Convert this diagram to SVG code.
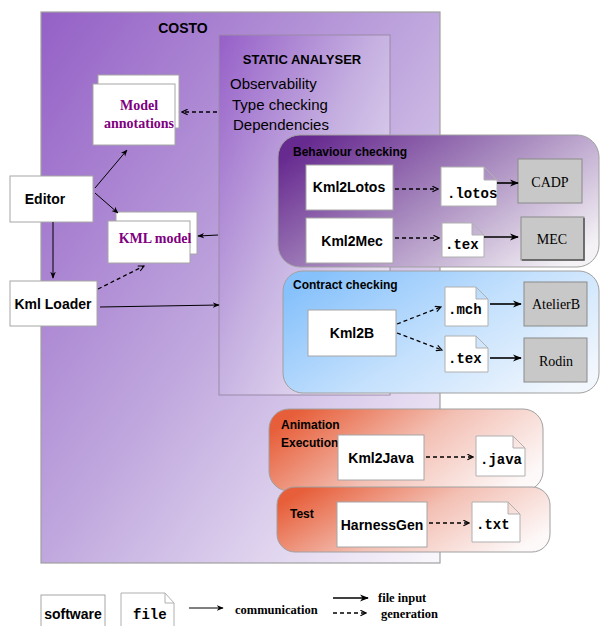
<svg xmlns="http://www.w3.org/2000/svg" width="601" height="626" viewBox="0 0 601 626">
<defs>
<linearGradient id="gCosto" x1="0" y1="0" x2="1" y2="1">
<stop offset="0" stop-color="#9460c6"/><stop offset="0.5" stop-color="#c0a8de"/><stop offset="1" stop-color="#faf8fc"/>
</linearGradient>
<linearGradient id="gStatic" x1="0" y1="0" x2="1" y2="1">
<stop offset="0" stop-color="#965fc8"/><stop offset="0.45" stop-color="#c4aee0"/><stop offset="1" stop-color="#f7f4fa"/>
</linearGradient>
<linearGradient id="gBehav" x1="0" y1="0.2" x2="1" y2="0.8">
<stop offset="0" stop-color="#672a90"/><stop offset="0.45" stop-color="#a383bb"/><stop offset="1" stop-color="#f4f2f5"/>
</linearGradient>
<linearGradient id="gContract" x1="0" y1="0.2" x2="1" y2="0.8">
<stop offset="0" stop-color="#86c1fb"/><stop offset="0.5" stop-color="#c3e0fd"/><stop offset="1" stop-color="#f2f7fd"/>
</linearGradient>
<linearGradient id="gRed" x1="0" y1="0.3" x2="1" y2="0.7">
<stop offset="0" stop-color="#e75f3a"/><stop offset="0.5" stop-color="#f3c0b4"/><stop offset="1" stop-color="#fdf9f9"/>
</linearGradient>
<marker id="ah" viewBox="0 0 10 10" refX="9" refY="5" markerWidth="7" markerHeight="7" orient="auto" markerUnits="userSpaceOnUse">
<path d="M0,1 L10,5 L0,9 L3,5 Z" fill="#000"/>
</marker>
<marker id="ahd" viewBox="0 0 10 10" refX="9" refY="5" markerWidth="7" markerHeight="7" orient="auto" markerUnits="userSpaceOnUse">
<path d="M1,1 L9,5 L1,9" fill="none" stroke="#000" stroke-width="1.6"/>
</marker>
<marker id="ahb" viewBox="0 0 10 10" refX="9" refY="5" markerWidth="9" markerHeight="9" orient="auto" markerUnits="userSpaceOnUse">
<path d="M0,1 L10,5 L0,9 L3,5 Z" fill="#000"/>
</marker>
</defs>
<style>
.box{fill:#fff;stroke:#a6a6a6;stroke-width:1}
.tool{fill:#c8c8c8;stroke:#8a8a8a;stroke-width:1}
.file{fill:#fff;stroke:#b0b0b0;stroke-width:1}
.sw{font-family:"Liberation Sans",Arial,sans-serif;font-weight:bold;font-size:14px;fill:#000;text-anchor:middle}
.hd{font-family:"Liberation Sans",Arial,sans-serif;font-weight:bold;fill:#000}
.mono{font-family:"Liberation Mono","Courier New",monospace;font-weight:bold;font-size:14px;fill:#000}
.serif{font-family:"Liberation Serif","Times New Roman",serif;font-size:14px;fill:#000;text-anchor:middle}
.purple{font-family:"Liberation Serif","Times New Roman",serif;font-weight:bold;font-size:14px;fill:#800080;text-anchor:middle}
.item{font-family:"Liberation Sans",Arial,sans-serif;font-size:15px;fill:#000}
.leg{font-family:"Liberation Serif","Times New Roman",serif;font-weight:bold;font-size:12.5px;fill:#000}
.sol{stroke:#000;stroke-width:1;fill:none;marker-end:url(#ah)}
.solb{stroke:#000;stroke-width:1.6;fill:none;marker-end:url(#ahb)}
.dash{stroke:#000;stroke-width:1.3;stroke-dasharray:4 3;fill:none;marker-end:url(#ahd)}
</style>

<g id="costo">
<rect x="41" y="12" width="399" height="551" fill="url(#gCosto)" stroke="#a0a0a0" stroke-width="1.2"/>
<text class="hd" x="183" y="33" font-size="14" text-anchor="middle">COSTO</text>
</g>

<g id="static-analyser">
<rect x="219" y="35" width="171" height="360" fill="url(#gStatic)" stroke="#9a8aa8" stroke-width="1"/>
<text class="hd" x="302" y="64" font-size="13" text-anchor="middle">STATIC ANALYSER</text>
<text class="item" x="230" y="89">Observability</text>
<text class="item" x="232" y="110">Type checking</text>
<text class="item" x="233" y="130">Dependencies</text>
</g>

<g id="model-annotations">
<rect class="box" x="98" y="75" width="81" height="53"/>
<rect class="box" x="93" y="84" width="82" height="61"/>
<text class="purple" x="139" y="110">Model</text>
<text class="purple" x="139" y="128">annotations</text>
</g>

<g id="kml-model">
<rect class="box" x="116" y="212" width="81" height="42"/>
<rect class="box" x="108" y="221" width="82" height="42"/>
<text class="purple" x="155" y="243">KML model</text>
</g>

<g id="editor">
<rect class="box" x="10" y="176" width="83" height="46"/>
<text class="sw" x="45" y="204">Editor</text>
</g>

<g id="kml-loader">
<rect class="box" x="10" y="281" width="87" height="45"/>
<text class="sw" x="53" y="309">Kml Loader</text>
</g>

<g id="behaviour-checking">
<rect x="278" y="135" width="321" height="132" rx="22" fill="url(#gBehav)" stroke="#a0a0a0" stroke-width="1"/>
<text class="hd" x="293" y="156" font-size="12">Behaviour checking</text>
</g>
<g id="kml2lotos">
<rect class="box" x="306" y="165" width="87" height="45"/>
<text class="sw" x="349" y="192">Kml2Lotos</text>
</g>
<g id="kml2mec">
<rect class="box" x="306" y="218" width="87" height="45"/>
<text class="sw" x="352" y="246">Kml2Mec</text>
</g>
<g id="lotos-file">
<path class="file" d="M441,167 H484 L497,180 V206 H441 Z M484,167 V180 H497"/>
<text class="mono" x="447" y="198">.lotos</text>
</g>
<g id="tex-file-1">
<path class="file" d="M442,223 H472 L484,235 V257 H442 Z M472,223 V235 H484"/>
<text class="mono" x="445" y="249">.tex</text>
</g>
<g id="cadp">
<rect class="tool" x="518" y="159" width="64" height="44"/>
<text class="serif" x="550" y="187">CADP</text>
</g>
<g id="mec">
<rect class="tool" x="521" y="217" width="63" height="43"/>
<path d="M584,218 V260 H522" stroke="#555" stroke-width="1.5" fill="none"/>
<text class="serif" x="552" y="244">MEC</text>
</g>

<g id="contract-checking">
<rect x="283" y="271" width="316" height="122" rx="20" fill="url(#gContract)" stroke="#a0a0a0" stroke-width="1"/>
<text class="hd" x="293" y="289" font-size="12">Contract checking</text>
</g>
<g id="kml2b">
<rect class="box" x="308" y="310" width="88" height="46"/>
<text class="sw" x="352" y="338">Kml2B</text>
</g>
<g id="mch-file">
<path class="file" d="M445,287 H476 L488,299 V326 H445 Z M476,287 V299 H488"/>
<text class="mono" x="448" y="314">.mch</text>
</g>
<g id="tex-file-2">
<path class="file" d="M445,336 H476 L488,348 V372 H445 Z M476,336 V348 H488"/>
<text class="mono" x="448" y="363">.tex</text>
</g>
<g id="atelierb">
<rect class="tool" x="524" y="282" width="63" height="44"/>
<text class="serif" x="556" y="309">AtelierB</text>
</g>
<g id="rodin">
<rect class="tool" x="524" y="338" width="63" height="44"/>
<text class="serif" x="556" y="366">Rodin</text>
</g>

<g id="animation-execution">
<rect x="269" y="409" width="274" height="82" rx="20" fill="url(#gRed)" stroke="#a0a0a0" stroke-width="1"/>
<text class="hd" x="281" y="429" font-size="12">Animation</text>
<text class="hd" x="281" y="447" font-size="12">Execution</text>
</g>
<g id="kml2java">
<rect class="box" x="338" y="435" width="86" height="45"/>
<text class="sw" x="381" y="463">Kml2Java</text>
</g>
<g id="java-file">
<path class="file" d="M476,436 H513 L525,448 V476 H476 Z M513,436 V448 H525"/>
<text class="mono" x="480" y="464">.java</text>
</g>

<g id="test">
<rect x="277" y="487" width="273" height="65" rx="18" fill="url(#gRed)" stroke="#a0a0a0" stroke-width="1"/>
<text class="hd" x="290" y="518" font-size="12">Test</text>
</g>
<g id="harnessgen">
<rect class="box" x="337" y="502" width="90" height="45"/>
<text class="sw" x="382" y="530">HarnessGen</text>
</g>
<g id="txt-file">
<path class="file" d="M472,502 H508 L520,514 V542 H472 Z M508,502 V514 H520"/>
<text class="mono" x="476" y="529">.txt</text>
</g>

<g id="connectors">
<line class="dash" x1="217" y1="112" x2="182" y2="112"/>
<line class="sol" x1="95" y1="188" x2="127" y2="150"/>
<line class="sol" x1="95" y1="193" x2="118" y2="213"/>
<line class="sol" x1="53" y1="222" x2="53" y2="278"/>
<line class="sol" x1="218" y1="235" x2="198" y2="236"/>
<line class="dash" x1="98" y1="289" x2="144" y2="266"/>
<line class="sol" x1="100" y1="307" x2="219" y2="305"/>
<line class="dash" x1="395" y1="189" x2="438" y2="189"/>
<line class="solb" x1="497" y1="183" x2="518" y2="183"/>
<line class="dash" x1="395" y1="238" x2="439" y2="238"/>
<line class="solb" x1="484" y1="237" x2="518" y2="237"/>
<line class="dash" x1="397" y1="324" x2="441" y2="307"/>
<line class="dash" x1="397" y1="333" x2="442" y2="350"/>
<line class="solb" x1="490" y1="304" x2="521" y2="304"/>
<line class="solb" x1="490" y1="358" x2="521" y2="358"/>
<line class="dash" x1="426" y1="457" x2="473" y2="457"/>
<line class="dash" x1="429" y1="523" x2="469" y2="523"/>
</g>

<g id="legend">
<rect class="box" x="41" y="595" width="64" height="40"/>
<text class="sw" x="73" y="619" font-size="13">software</text>
<path class="file" d="M121,593 H165 L174,603 V636 H121 Z M165,593 V603 H174"/>
<text class="mono" x="133" y="619" font-size="13">file</text>
<line class="sol" x1="189" y1="608" x2="223" y2="608"/>
<text class="leg" x="235" y="614">communication</text>
<line class="solb" x1="333" y1="598" x2="368" y2="598"/>
<text class="leg" x="378" y="602">file input</text>
<line class="dash" x1="333" y1="613" x2="366" y2="613"/>
<text class="leg" x="381" y="618">generation</text>
</g>
</svg>
